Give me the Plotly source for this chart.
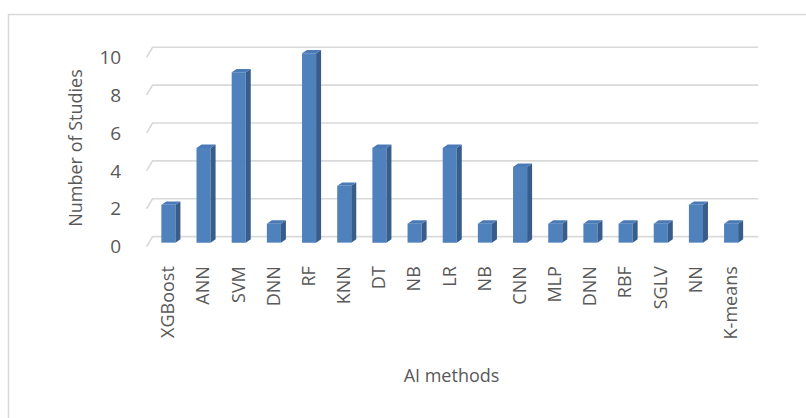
import plotly.graph_objects as go

# Counts of studies per AI method
methods = ["XGBoost", "ANN", "SVM", "DNN", "RF", "KNN", "DT", "NB", "LR", "NB",
           "CNN", "MLP", "DNN", "RBF", "SGLV", "NN", "K-means"]
studies = [2, 5, 9, 1, 10, 3, 5, 1, 5, 1, 4, 1, 1, 1, 1, 2, 1]
y_ticks = [0, 2, 4, 6, 8, 10]

FRONT = "#4F81BD"
SIDE = "#385D8A"
TOP = "#4A7BB7"
GRID = "#D9D9D9"
TEXT = "#595959"
FONT = "'Open Sans', Lato, sans-serif"

pos = list(range(len(methods)))
half = 0.2            # half width of a bar's front face (category units)
dx, dy = 0.142, 0.18  # depth offset of the bar's side/top faces

fig = go.Figure()

# Front faces of the columns
fig.add_trace(go.Bar(x=pos, y=studies, width=2 * half,
                     marker=dict(color=FRONT, line=dict(width=0)),
                     showlegend=False))

# Side faces
sx, sy = [], []
for p, v in zip(pos, studies):
    r = p + half
    sx += [r, r + dx, r + dx, r, r, None]
    sy += [0, dy, v + dy, v, 0, None]
fig.add_trace(go.Scatter(x=sx, y=sy, mode="lines", fill="toself",
                         fillcolor=SIDE, line=dict(width=0, color=SIDE),
                         hoverinfo="skip", showlegend=False))

# Top faces
tx, ty = [], []
for p, v in zip(pos, studies):
    l, r = p - half, p + half
    tx += [l, l + dx, r + dx, r, l, None]
    ty += [v, v + dy, v + dy, v, v, None]
fig.add_trace(go.Scatter(x=tx, y=ty, mode="lines", fill="toself",
                         fillcolor=TOP, line=dict(width=0, color=TOP),
                         hoverinfo="skip", showlegend=False))

# Back-wall gridlines (behind the columns) with a slanted floor edge on the left
grid_shapes = []
for v in y_ticks:
    grid_shapes.append(dict(type="path", xref="x", yref="y", layer="below",
                            path=f"M -0.62,{v - 0.21} L -0.45,{v + 0.32} L 16.77,{v + 0.32}",
                            line=dict(color=GRID, width=1.6)))

# Outer chart frame
frame = dict(type="rect", xref="paper", yref="paper",
             x0=-0.2157, x1=1.2, y0=-1.0, y1=1.1297,
             line=dict(color=GRID, width=1.5), layer="below")

fig.update_layout(
    width=806, height=418,
    margin=dict(l=142, r=45, t=42, b=164),
    paper_bgcolor="white", plot_bgcolor="white",
    font=dict(family=FONT, color=TEXT),
    xaxis=dict(range=[-0.75, 16.85], tickmode="array", tickvals=pos,
               ticktext=methods, tickangle=-90, showgrid=False,
               zeroline=False, showline=False, ticks="outside", ticklen=4,
               tickcolor="rgba(0,0,0,0)", tickfont=dict(size=18, color=TEXT),
               title=dict(text="AI methods", font=dict(size=18, color=TEXT),
                          standoff=30)),
    yaxis=dict(range=[-0.6, 10.6], tickmode="array", tickvals=y_ticks,
               showgrid=False, zeroline=False, showline=False,
               ticks="outside", ticklen=16, tickcolor="rgba(0,0,0,0)",
               ticklabelshift=4, tickfont=dict(size=19, color=TEXT),
               title=dict(text="Number of Studies",
                          font=dict(size=18, color=TEXT), standoff=12)),
    shapes=grid_shapes + [frame],
)

fig.write_html("out.html")
